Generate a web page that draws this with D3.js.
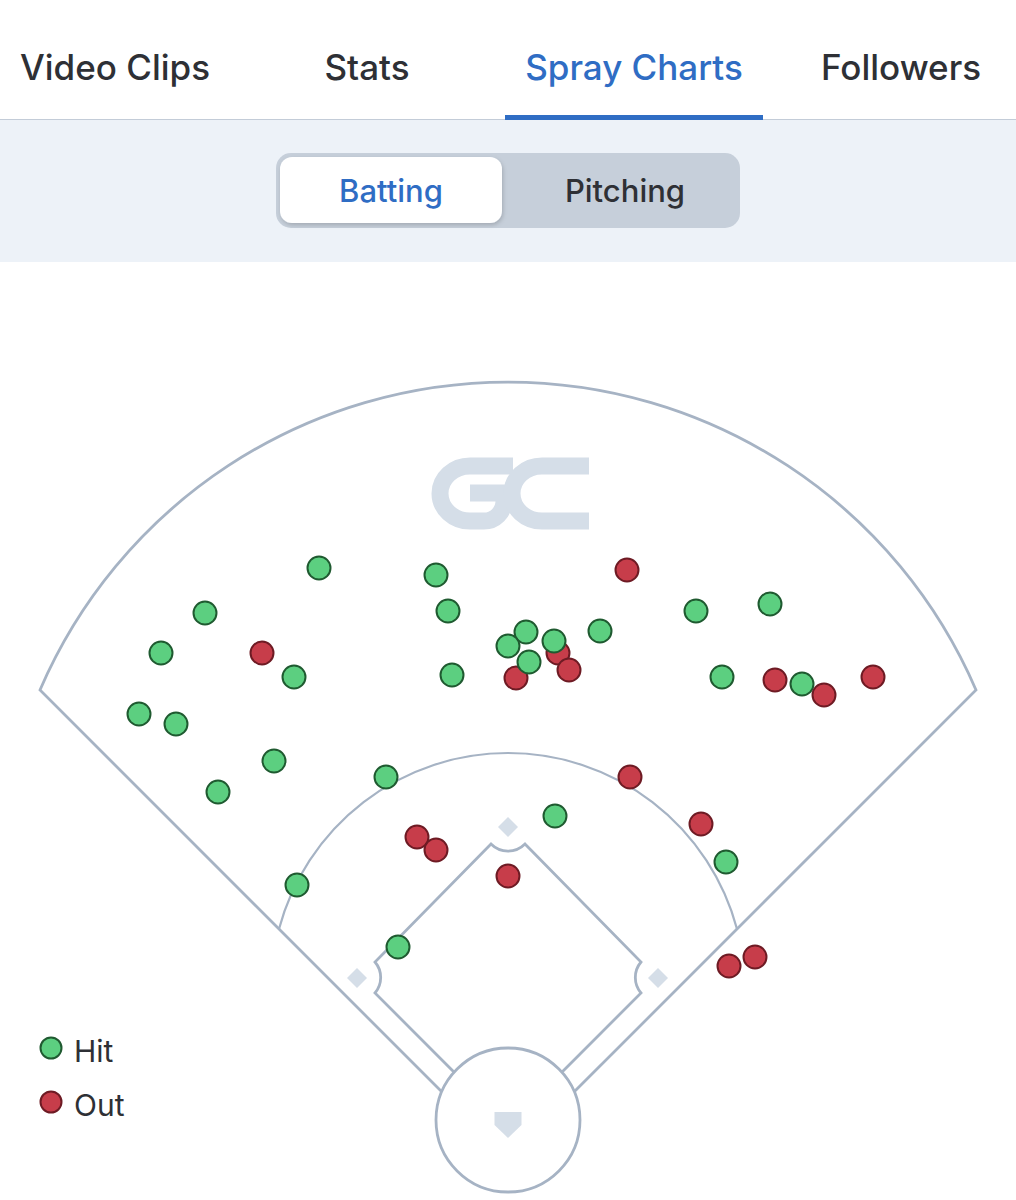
<!DOCTYPE html>
<html>
<head>
<meta charset="utf-8">
<script src="https://cdn.jsdelivr.net/npm/d3@7"></script>
<style>
  html, body { margin: 0; padding: 0; background: #ffffff; }
  svg { display: block; }
  text { font-family: Inter, "Noto Sans", "DejaVu Sans", sans-serif; }
</style>
</head>
<body>
<svg id="chart" width="1016" height="1200"></svg>
<script>
// ---------- data ----------
const tabs = ["Video Clips", "Stats", "Spray Charts", "Followers"];
const tabCenters = [115, 367, 634, 901];
const activeTab = "Spray Charts";
const toggles = ["Batting", "Pitching"];
const activeToggle = "Batting";
const categories = ["Hit", "Out"];
// plays in draw order: [x (field units, + = right of home), y (field units from home), category index]
const plays = [
  [-246, 467, 1], [119, 550, 1], [50, 467, 1], [8, 442, 1], [61, 450, 1],
  [267, 440, 1], [365, 443, 1], [122, 343, 1], [-91, 283, 1], [-72, 270, 1],
  [0, 244, 1], [193, 296, 1], [247, 163, 1], [221, 154, 1],
  [-189, 552, 0], [-72, 545, 0], [-303, 507, 0], [-60, 509, 0], [-347, 467, 0],
  [-214, 443, 0], [-56, 445, 0], [-369, 406, 0], [-332, 396, 0], [-234, 359, 0],
  [-290, 328, 0], [-122, 343, 0], [18, 488, 0], [46, 479, 0], [0, 474, 0],
  [21, 458, 0], [92, 489, 0], [188, 509, 0], [262, 516, 0], [214, 443, 0],
  [294, 436, 0], [47, 304, 0], [218, 258, 0], [-110, 173, 0], [-211, 235, 0],
  [316, 425, 1]
];

// ---------- scales ----------
const svg = d3.select("#chart");
const W = 1016;
const x = d3.scaleLinear().domain([-508, 508]).range([0, 1016]);
const y = d3.scaleLinear().domain([0, 800]).range([1120, 320]);
const color = d3.scaleOrdinal().domain(categories).range(["#5ccf80", "#c73d4a"]);
const stroke = d3.scaleOrdinal().domain(categories).range(["#1f5a30", "#6e1b24"]);
const tabX = d3.scaleOrdinal().domain(tabs).range(tabCenters);

const lineCol = "#a6b3c4";
const baseCol = "#d5dee8";
const dark = "#2e3035";
const blue = "#2f6dc4";

// ---------- header ----------
svg.append("rect").attr("x", 0).attr("y", 0).attr("width", W).attr("height", 120).attr("fill", "#fff");
svg.append("rect").attr("x", 0).attr("y", 120).attr("width", W).attr("height", 142).attr("fill", "#edf2f8");
svg.append("rect").attr("x", 0).attr("y", 119).attr("width", W).attr("height", 1).attr("fill", "#c3ccd8");

svg.selectAll("text.tab").data(tabs).join("text")
  .attr("class", "tab")
  .attr("x", d => tabX(d))
  .attr("y", 80)
  .attr("text-anchor", "middle")
  .attr("font-size", 35)
  .attr("font-weight", 500)
  .attr("fill", d => d === activeTab ? blue : dark)
  .text(d => d);

svg.append("rect").attr("x", 505).attr("y", 115).attr("width", 258).attr("height", 5).attr("fill", blue);

// toggle
const defs = svg.append("defs");
const f = defs.append("filter").attr("id", "sh").attr("x", "-10%").attr("y", "-20%").attr("width", "130%").attr("height", "150%");
f.append("feDropShadow").attr("dx", 1).attr("dy", 2).attr("stdDeviation", 2).attr("flood-color", "#000").attr("flood-opacity", 0.18);

svg.append("rect").attr("x", 276).attr("y", 153).attr("width", 464).attr("height", 75).attr("rx", 15)
  .attr("fill", "#c6cfda");
svg.append("rect").attr("x", 280).attr("y", 157).attr("width", 222).attr("height", 66).attr("rx", 12)
  .attr("fill", "#fff").attr("filter", "url(#sh)");
const togX = d3.scalePoint().domain(toggles).range([391, 625]);
svg.selectAll("text.tog").data(toggles).join("text")
  .attr("class", "tog")
  .attr("x", d => togX(d)).attr("y", 202)
  .attr("text-anchor", "middle")
  .attr("font-size", 31)
  .attr("font-weight", 500)
  .attr("fill", d => d === activeToggle ? blue : dark)
  .text(d => d);

// ---------- field ----------
const g = svg.append("g");
const P = (a, b) => [x(a), y(b)];
const k = x(1) - x(0);
const lw = 2.8;

// outfield boundary: foul lines + fence arc
const hr = 72; // home circle radius
const Rf = 509.6;
const lfx = (-38 - Math.sqrt(38 * 38 + 4 * 1870)) / 2, lfy = -lfx - 38; // foul line meets home circle
const outer = `M${P(lfx, lfy)} L${P(-468, 430)} A${Rf * k},${Rf * k} 0 0 1 ${P(468, 430)} L${P(-lfx, lfy)}`;
g.append("path").attr("d", outer).attr("fill", "none").attr("stroke", lineCol).attr("stroke-width", lw);

// home circle
g.append("circle").attr("cx", x(0)).attr("cy", y(0)).attr("r", hr * k)
  .attr("fill", "none").attr("stroke", lineCol).attr("stroke-width", lw);

// grass arc
const Rg = 237;
const gx = (-168 - Math.sqrt(168 * 168 + 4 * 13972.5)) / 2, gy = -gx - 38;
g.append("path")
  .attr("d", `M${P(gx, gy)} A${Rg * k},${Rg * k} 0 0 1 ${P(-gx, gy)}`)
  .attr("fill", "none").attr("stroke", lineCol).attr("stroke-width", 2.2);

// infield
const ix = (-6 - Math.sqrt(36 + 4 * 2574)) / 2, iy = -ix - 6;
const rb = 24 * k;
const infield = `M${P(ix, iy)} L${P(-133, 127)} A${rb},${rb} 0 0 0 ${P(-133, 158)} ` +
  `L${P(-17, 276)} A${rb},${rb} 0 0 0 ${P(17, 276)} ` +
  `L${P(133, 158)} A${rb},${rb} 0 0 0 ${P(133, 127)} L${P(-ix, iy)}`;
g.append("path").attr("d", infield).attr("fill", "none").attr("stroke", lineCol).attr("stroke-width", lw);

// bases
const bases = [[0, 293], [-151, 142], [150, 142]];
g.selectAll("path.base").data(bases).join("path")
  .attr("class", "base")
  .attr("d", d => { const [cx, cy] = P(d[0], d[1]); const s = 10; return `M${cx},${cy - s} L${cx + s},${cy} L${cx},${cy + s} L${cx - s},${cy} Z`; })
  .attr("fill", baseCol);

// home plate
const plate = [[-13.5, 8], [13.5, 8], [13.5, -5], [0, -18], [-13.5, -5]];
g.append("path").attr("d", "M" + plate.map(p => P(p[0], p[1]).join(",")).join("L") + "Z").attr("fill", baseCol);

// GC logo (graphic mark)
const logo = g.append("g").attr("fill", "none").attr("stroke", baseCol).attr("stroke-width", 17);
logo.append("path").attr("d", `M${P(5, 654)} H${x(-38)} A30,27.5 0 0 0 ${x(-68)},${y(626.5)} A30,27.5 0 0 0 ${x(-38)},${y(599)} H${x(-24)} A20,20 0 0 0 ${x(-4)},${y(619)} V${y(627)} H${x(-38)}`);
logo.append("path").attr("d", `M${P(81, 654)} H${x(34)} A30,27.5 0 0 0 ${x(4)},${y(626.5)} A30,27.5 0 0 0 ${x(34)},${y(599)} H${x(81)}`);

// ---------- plays ----------
g.selectAll("circle.play").data(plays).join("circle")
  .attr("class", "play")
  .attr("cx", d => x(d[0]))
  .attr("cy", d => y(d[1]))
  .attr("r", 11.5)
  .attr("fill", d => color(categories[d[2]]))
  .attr("stroke", d => stroke(categories[d[2]]))
  .attr("stroke-width", 2);

// ---------- legend ----------
const leg = svg.append("g");
const legY = d3.scalePoint().domain(categories).range([1048, 1102]);
leg.selectAll("circle").data(categories).join("circle")
  .attr("cx", 51).attr("cy", d => legY(d)).attr("r", 10.5)
  .attr("fill", d => color(d)).attr("stroke", d => stroke(d)).attr("stroke-width", 2);
leg.selectAll("text").data(categories).join("text")
  .attr("x", 74).attr("y", d => legY(d) + 14)
  .attr("font-size", 30)
  .attr("fill", dark)
  .text(d => d);
</script>
</body>
</html>
